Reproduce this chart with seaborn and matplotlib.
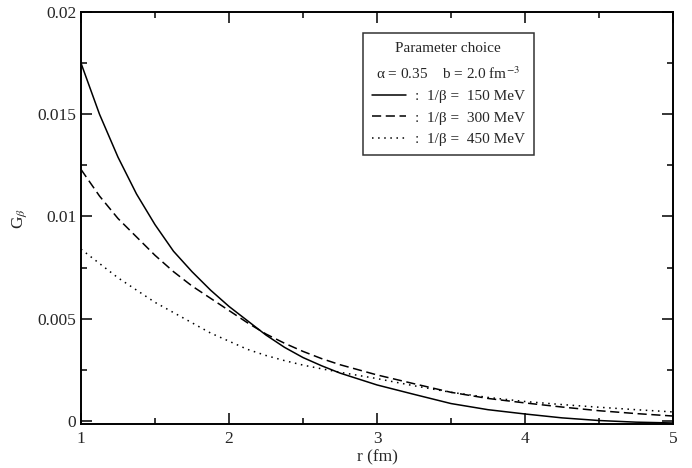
import numpy as np
import pandas as pd
import matplotlib
matplotlib.use("Agg")
import matplotlib.pyplot as plt
from matplotlib.ticker import MultipleLocator, FuncFormatter
from matplotlib.lines import Line2D
import seaborn as sns

# values
r_fm = [1.0, 1.125, 1.25, 1.375, 1.5, 1.625, 1.75, 1.875, 2.0, 2.125,
        2.25, 2.375, 2.5, 2.625, 2.75, 3.0, 3.25, 3.5, 3.75, 4.0, 4.25,
        4.5, 4.75, 5.0]
g_150 = [0.0175, 0.0150, 0.0129, 0.0111, 0.0096, 0.0083, 0.0073, 0.0064,
         0.0056, 0.0049, 0.0042, 0.0036, 0.0031, 0.0027, 0.00234, 0.00176,
         0.0013, 0.00085, 0.00055, 0.00034, 0.00015, 0.00002, -0.00006,
         -0.0001]
g_300 = [0.0123, 0.0110, 0.0099, 0.0090, 0.0081, 0.0073, 0.0066, 0.0060,
         0.0054, 0.0048, 0.00425, 0.0038, 0.0034, 0.00305, 0.00275, 0.00225,
         0.00182, 0.0014, 0.0011, 0.00088, 0.00068, 0.0005, 0.00036,
         0.00024]
g_450 = [0.0084, 0.0077, 0.0070, 0.0064, 0.0058, 0.0053, 0.0048, 0.0043,
         0.0039, 0.0035, 0.0032, 0.00295, 0.00273, 0.00255, 0.00238, 0.00207,
         0.00172, 0.0014, 0.00115, 0.00095, 0.0008, 0.00067, 0.00055,
         0.00044]
temps = ["150", "300", "450"]


def main():
    sns.set_style("ticks")
    plt.rcParams["font.family"] = ["Liberation Serif", "DejaVu Serif"]
    plt.rcParams["mathtext.fontset"] = "stix"

    df = pd.DataFrame({
        "r": r_fm * 3,
        "G": g_150 + g_300 + g_450,
        "T": [t for t in temps for _ in r_fm],
    })

    fig = plt.figure(figsize=(6.92, 4.68), dpi=100)
    ax = fig.add_axes([81 / 692, 1 - 424 / 468, 592 / 692, 412 / 468])

    styles = {"150": "-", "300": (0, (6, 3)), "450": (0, (1, 3))}
    for t in temps:
        sub = df[df["T"] == t]
        sns.lineplot(data=sub, x="r", y="G", ax=ax, color="black",
                     linewidth=1.1, linestyle=styles[t], legend=False)

    ax.set_xlim(1, 5)
    ax.set_ylim(-0.00015, 0.02)
    ax.xaxis.set_major_locator(MultipleLocator(1))
    ax.xaxis.set_minor_locator(MultipleLocator(0.5))
    ax.yaxis.set_major_locator(MultipleLocator(0.005))
    ax.yaxis.set_minor_locator(MultipleLocator(0.0025))
    ax.yaxis.set_major_formatter(FuncFormatter(lambda v, p: "0" if abs(v) < 1e-12 else f"{v:g}"))
    ax.tick_params(which="both", direction="in", top=True, right=True,
                   labelsize=12.5, width=1.1, color="black")
    ax.tick_params(which="major", length=8)
    ax.tick_params(which="minor", length=4.5)
    ax.tick_params(axis="x", pad=5)
    for s in ax.spines.values():
        s.set_linewidth(1.4)
        s.set_color("black")

    ax.set_xlabel("r (fm)", fontsize=12.5, labelpad=2)
    ax.set_ylabel(r"G$_\beta$", fontsize=12.5, labelpad=6)

    handles = [Line2D([], [], color="black", linewidth=1.1, linestyle=styles[t]) for t in temps]
    labels = [f":  1/\u03b2 =  {t} MeV" for t in temps]
    leg = ax.legend(handles, labels, loc="upper left",
                    bbox_to_anchor=(0.476, 0.949), fontsize=11,
                    title="Parameter choice\n\u03b1 = 0.35    b = 2.0 fm$^{-3}$",
                    title_fontsize=11, frameon=True, fancybox=False,
                    handlelength=2.2, handletextpad=0.6, borderpad=0.6,
                    borderaxespad=0, labelspacing=0.5)
    leg.get_frame().set_edgecolor("black")
    leg.get_frame().set_linewidth(1.1)
    leg.get_title().set_multialignment("center")
    leg.get_title().set_linespacing(1.75)

    fig.savefig("out.png", dpi=100)


if __name__ == "__main__":
    main()
